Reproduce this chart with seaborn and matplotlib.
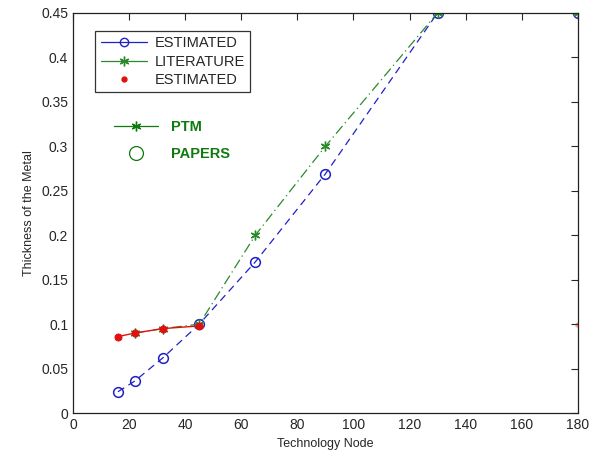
import matplotlib
matplotlib.use("Agg")
import matplotlib.pyplot as plt
import seaborn as sns
import pandas as pd
from matplotlib.lines import Line2D

sns.set_style("white")
plt.rcParams['font.family'] = ['Liberation Sans', 'DejaVu Sans']

# Data
est_x = [16, 22, 32, 45, 65, 90, 130, 180]
est_y = [0.024, 0.036, 0.062, 0.100, 0.170, 0.269, 0.450, 0.450]
lit_x = [22, 32, 45, 65, 90, 130, 180]
lit_y = [0.090, 0.095, 0.100, 0.200, 0.300, 0.450, 0.450]
red_x = [16, 22, 32, 45]
red_y = [0.086, 0.090, 0.095, 0.098]
red_extra_x = [180]
red_extra_y = [0.099]

x_ticks = [0, 20, 40, 60, 80, 100, 120, 140, 160, 180]
y_ticks = [0, 0.05, 0.1, 0.15, 0.2, 0.25, 0.3, 0.35, 0.4, 0.45]
y_ticklabels = ['0', '0.05', '0.1', '0.15', '0.2', '0.25', '0.3', '0.35', '0.4', '0.45']

blue = '#2020c8'
green = '#2a8a2a'
dkgreen = '#0f7a0f'
red = '#e01010'
ast = (6, 2, 0)

fig = plt.figure(figsize=(5.89, 4.59), dpi=100)
ax = fig.add_axes([0.124, 0.100, 0.857, 0.872])

df_est = pd.DataFrame({'x': est_x, 'y': est_y})
df_lit = pd.DataFrame({'x': lit_x, 'y': lit_y})
df_red = pd.DataFrame({'x': red_x, 'y': red_y})
df_red2 = pd.DataFrame({'x': red_extra_x, 'y': red_extra_y})

sns.lineplot(data=df_est, x='x', y='y', ax=ax, color=blue, linestyle=(0, (6, 4)),
             linewidth=0.9, marker='o', markersize=7, markerfacecolor='none',
             markeredgecolor=blue, markeredgewidth=1.1, label='ESTIMATED', zorder=2)
sns.lineplot(data=df_lit, x='x', y='y', ax=ax, color=green, linestyle=(0, (8, 3, 1, 3)),
             linewidth=0.9, marker=ast, markersize=7, markeredgecolor=green,
             markeredgewidth=1.0, label='LITERATURE', zorder=2)
sns.lineplot(data=df_red, x='x', y='y', ax=ax, color=red, linestyle='-',
             linewidth=1.0, marker='o', markersize=5, markeredgecolor=red,
             label='ESTIMATED', zorder=4)
sns.scatterplot(data=df_red2, x='x', y='y', ax=ax, color=red, s=14, alpha=0.4,
                edgecolor='none', legend=False, clip_on=True)

ax.set_xlim(0, 180)
ax.set_ylim(0, 0.45)
ax.set_xticks(x_ticks)
ax.set_xticklabels([str(t) for t in x_ticks])
ax.set_yticks(y_ticks)
ax.set_yticklabels(y_ticklabels)
ax.tick_params(direction='in', top=True, right=True, length=5, labelsize=10, width=0.8)
for s in ax.spines.values():
    s.set_linewidth(0.9)
    s.set_color('#222222')
ax.set_xlabel('Technology Node', fontsize=9)
ax.set_ylabel('Thickness of the Metal', fontsize=9)

h1 = [Line2D([], [], color=blue, linewidth=0.9, marker='o', markerfacecolor='none',
             markeredgecolor=blue, markersize=6),
      Line2D([], [], color=green, linewidth=0.9, marker=ast, markersize=7,
             markeredgewidth=1.0),
      Line2D([], [], color=red, linestyle='none', marker='o', markersize=3.5)]
leg1 = ax.legend(h1, ['ESTIMATED', 'LITERATURE', 'ESTIMATED'], loc='upper left',
                 bbox_to_anchor=(0.03, 0.972), frameon=True, fancybox=False,
                 edgecolor='black', fontsize=10.5, handlelength=3.2,
                 borderpad=0.35, labelspacing=0.3, handletextpad=0.5)
leg1.get_frame().set_linewidth(0.9)
ax.add_artist(leg1)

h2 = [Line2D([], [], color=dkgreen, linewidth=0.9, marker=ast, markersize=7,
             markeredgewidth=1.0),
      Line2D([], [], color=dkgreen, linestyle='none', marker='o', markerfacecolor='none',
             markersize=10, markeredgewidth=0.9)]
leg2 = ax.legend(h2, ['PTM', 'PAPERS'], loc='upper left', bbox_to_anchor=(0.055, 0.765),
                 frameon=False, fontsize=10.5, handlelength=3.0, labelspacing=0.9,
                 handletextpad=0.9)
for t in leg2.get_texts():
    t.set_color(dkgreen)
    t.set_fontweight('bold')

fig.savefig('out.png', dpi=100)
